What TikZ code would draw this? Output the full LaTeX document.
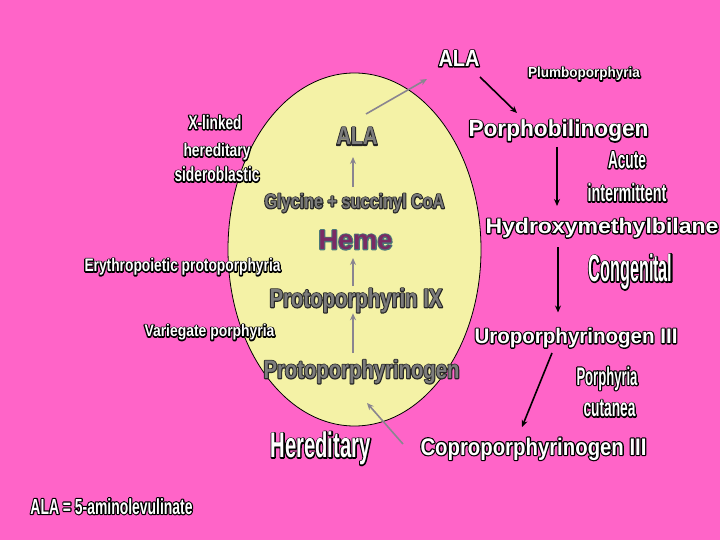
\documentclass[tikz,border=0pt]{standalone}
\usepackage{fontspec}
\setmainfont{Liberation Sans}
\usetikzlibrary{arrows.meta,calc}
\definecolor{bgpink}{HTML}{FF64C8}
\definecolor{ellfill}{HTML}{F4F2A6}
\definecolor{txtgray}{HTML}{7C7C7C}
\definecolor{arrgray}{HTML}{8A8590}
\definecolor{hemefill}{HTML}{7A2B64}
\definecolor{hemeout}{HTML}{4A7878}
\newlength\natw
% #1 outline colour, #2 outline width, #3 width, #4 cap height, #5 text
\newcommand\ot[5]{%
  \pgfmathsetmacro\fsz{#4/0.688}%
  \fontsize{\fsz pt}{\fsz pt}\selectfont
  \settowidth\natw{#5}%
  \pgfmathsetmacro\fstr{#3/\natw}%
  \edef\tmpfeat{\noexpand\addfontfeatures{FakeStretch=\fstr}}\tmpfeat
  \rlap{\color{#1}\special{pdf:literal direct 1 Tr #2 w 1 j}#5\special{pdf:literal direct 0 Tr}}#5%
}
\newcommand\wt[3]{\ot{black}{2.4}{#1}{#2}{#3}}
\newcommand\gt[3]{\ot{black!85}{2.0}{#1}{#2}{#3}}
\tikzset{
  lab/.style={anchor=base west, inner sep=0pt, outer sep=0pt, text=white, font=\bfseries},
  glab/.style={lab, text=txtgray},
  hlab/.style={lab, text=hemefill},
  blk/.style={draw=black, line width=1.6pt, -{Stealth[length=7pt,width=6pt]}},
  gry/.style={draw=arrgray, line width=1.6pt, -{Stealth[length=7pt,width=6pt]}},
  ell/.style={draw=black, line width=0.8pt, fill=ellfill}
}
\begin{document}
\begin{tikzpicture}[x=1pt,y=-1pt]
\useasboundingbox (0,0) rectangle (720,540);
\fill[bgpink] (0,0) rectangle (720,540);
\draw[ell] (354.5,249.5) ellipse [x radius=126.5, y radius=176.5];

% outer (white) labels
\node[lab] (alaO) at (438.5,66.5) {\wt{41}{16}{ALA}};
\node[lab] (plumbo) at (528,77.7) {\wt{112}{10}{Plumboporphyria}};
\node[lab] (porpho) at (468.5,136.7) {\wt{180}{16}{Porphobilinogen}};
\node[lab] (acute) at (608,168.3) {\wt{38}{17}{Acute}};
\node[lab] (interm) at (587.5,201.7) {\wt{79}{17}{intermittent}};
\node[lab] (hydroxy) at (485.5,233.3) {\wt{233}{14.5}{Hydroxymethylbilane}};
\node[lab] (congen) at (588.5,281.7) {\wt{84}{26}{Congenital}};
\node[lab] (uro) at (474.5,343.3) {\wt{203}{14.5}{Uroporphyrinogen III}};
\node[lab] (porphyria) at (576.5,385) {\wt{61}{17.5}{Porphyria}};
\node[lab] (cutanea) at (583.5,416.7) {\wt{52}{17.5}{cutanea}};
\node[lab] (copro) at (420.5,455) {\wt{226}{16.5}{Coproporphyrinogen III}};
\node[lab] (heredB) at (270.5,457.7) {\wt{100}{24.5}{Hereditary}};
\node[lab] (alaeq) at (30.5,514) {\wt{162}{15}{ALA = 5-aminolevulinate}};
\node[lab] (xlinked) at (188.5,129.3) {\wt{53}{13.5}{X-linked}};
\node[lab] (heredL) at (183.5,156.7) {\wt{67}{12.5}{hereditary}};
\node[lab] (sidero) at (174.5,181.7) {\wt{85}{14}{sideroblastic}};
\node[lab] (erythro) at (84.5,271.7) {\wt{196}{12.5}{Erythropoietic protoporphyria}};
\node[lab] (varieg) at (144.5,336.7) {\wt{130}{11.5}{Variegate porphyria}};

% inner (gray) labels
\node[glab] (alaI) at (336.5,145) {\gt{41}{17.5}{ALA}};
\node[glab] (glycine) at (264.5,208.3) {\gt{180}{14}{Glycine + succinyl CoA}};
\node[hlab] (heme) at (318.5,249.3) {\ot{hemeout}{2.2}{74}{19}{Heme}};
\node[glab] (proIX) at (269.5,307.3) {\gt{173}{18}{Protoporphyrin IX}};
\node[glab] (protogen) at (263.5,378.3) {\gt{196}{17.5}{Protoporphyrinogen}};

% black arrows
\draw[blk] ($(alaO.base east)+(0.5,10.5)$) -- ($(porpho.base west)+(48.5,-23.7)$);
\draw[blk] ($(porpho.base west)+(88.5,10.3)$) -- ($(hydroxy.base west)+(71.5,-27.3)$);
\draw[blk] ($(hydroxy.base west)+(72.5,13.7)$) -- ($(uro.base west)+(83.5,-30.8)$);
\draw[blk] ($(uro.base west)+(77.5,9.7)$) -- ($(copro.base west)+(101.5,-28)$);

% gray arrows
\draw[gry] ($(alaI.base west)+(29.5,-31)$) -- ($(alaO.base west)+(-11.5,12.5)$);
\draw[gry] ($(glycine.base west)+(88.5,-21.3)$) -- ($(alaI.base west)+(16.5,12)$);
\draw[gry] ($(proIX.base west)+(83.5,-21.3)$) -- ($(heme.base west)+(34.5,8.7)$);
\draw[gry] ($(protogen.base west)+(89.5,-25.3)$) -- ($(proIX.base west)+(83.5,6)$);
\draw[gry] ($(copro.base west)+(-17.5,-11)$) -- ($(protogen.base west)+(103.5,24.7)$);
\end{tikzpicture}
\end{document}
